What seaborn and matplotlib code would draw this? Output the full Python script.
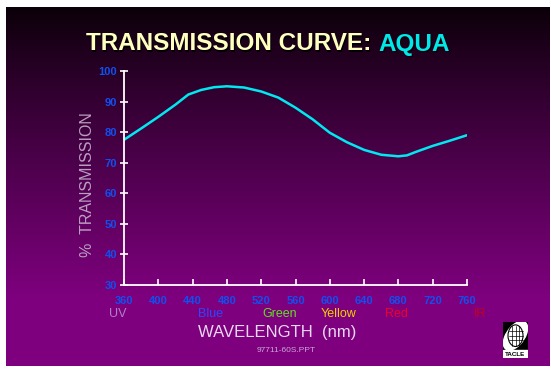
import matplotlib.pyplot as plt
import matplotlib.patches as mpatches
import numpy as np
import pandas as pd
import seaborn as sns

# values
wavelength = [360, 380, 400, 420, 435, 450, 465, 480, 500, 520, 540, 560,
              580, 600, 620, 640, 660, 680, 690, 700, 720, 740, 760]
transmission = [77.5, 81.2, 85.0, 89.0, 92.3, 93.8, 94.7, 95.0, 94.6, 93.3,
                91.3, 88.0, 84.2, 79.8, 76.7, 74.2, 72.6, 72.1, 72.4, 73.5,
                75.5, 77.2, 79.0]
x_ticks = [360, 400, 440, 480, 520, 560, 600, 640, 680, 720, 760]
y_ticks = [30, 40, 50, 60, 70, 80, 90, 100]
band_names = ["UV", "Blue", "Green", "Yellow", "Red", "IR"]
band_pos = [353, 461, 542, 610, 678, 775]
band_colors = ["#b080c8", "#2848ff", "#60e020", "#f0d000", "#f00028", "#c00020"]

df = pd.DataFrame({"wavelength": wavelength, "transmission": transmission})

sns.set_style("white")
plt.rcParams['font.family'] = ['Liberation Sans', 'DejaVu Sans']

W, H = 551, 371
fig = plt.figure(figsize=(W / 100, H / 100), dpi=100)
fig.patch.set_facecolor("white")

# slide background with vertical gradient
bg = fig.add_axes([6 / W, 1 - 366 / H, 544 / W, 359 / H])
bg.set_axis_off()
t = np.linspace(0, 1, 256)
ramp = np.clip(t / 0.82, 0, 1) ** 0.9
top = np.array([0.04, 0.0, 0.03])
bot = np.array([0.50, 0.0, 0.50])
grad = top[None, :] + (bot - top)[None, :] * ramp[:, None]
bg.imshow(grad[:, None, :], aspect="auto", extent=[0, 1, 1, 0])
bg.set_xlim(0, 1)
bg.set_ylim(1, 0)

ax = fig.add_axes([124 / W, 1 - 285 / H, 343 / W, 214 / H])
ax.patch.set_alpha(0)
sns.lineplot(data=df, x="wavelength", y="transmission", ax=ax,
             color="#00e8f0", linewidth=1.8)
ax.set_xlim(360, 760)
ax.set_ylim(30, 100)
ax.set_xticks(x_ticks)
ax.set_yticks(y_ticks)
for s in ["top", "right"]:
    ax.spines[s].set_visible(False)
for s in ["left", "bottom"]:
    ax.spines[s].set_color("white")
    ax.spines[s].set_linewidth(1.3)
ax.tick_params(axis="y", left=True, direction="inout", length=6, width=1.2,
               color="white", labelcolor="#1050f0", labelsize=8, pad=2)
ax.tick_params(axis="x", bottom=True, direction="in", length=4, width=1.2,
               color="white", labelcolor="#1050f0", labelsize=8, pad=8)
for lab in ax.get_xticklabels() + ax.get_yticklabels():
    lab.set_fontweight("bold")
ax.set_xlabel("")
ax.set_ylabel("%  TRANSMISSION", color="#b8a0c0", fontsize=11.5)
ax.yaxis.set_label_coords(-0.085, 0.47)

for name, pos, col in zip(band_names, band_pos, band_colors):
    ax.text(pos, -0.135, name, transform=ax.get_xaxis_transform(),
            ha="center", va="center", color=col, fontsize=9)

fig.text(277 / W, 1 - 333 / H, "WAVELENGTH  (nm)", ha="center", va="center",
         color="#e8d8f0", fontsize=12)
fig.text(286 / W, 1 - 350 / H, "97711-60S.PPT", ha="center", va="center",
         color="#c8a8d8", fontsize=6)

# title with shadow
title_l = "TRANSMISSION CURVE: "
title_r = "AQUA"
ty = 1 - 44 / H
for dx, dy, c1, c2 in [(1.5, -1.5, "#000000", "#000000"),
                       (0, 0, "#ffffc0", "#00e8e8")]:
    fig.text(378 / W + dx / W, ty + dy / H, title_l, ha="right", va="center",
             color=c1, fontsize=17.5, fontweight="bold")
    fig.text(378 / W + dx / W, ty + dy / H, title_r, ha="left", va="center",
             color=c2, fontsize=17.5, fontweight="bold")

# small logo, bottom right
logo = fig.add_axes([503 / W, 1 - 358 / H, 25 / W, 36 / H])
logo.set_xlim(0, 1)
logo.set_ylim(0, 1)
logo.set_axis_off()
logo.add_patch(mpatches.Rectangle((0, 0.25), 1, 0.75, color="black"))
logo.add_patch(mpatches.Ellipse((0.5, 0.62), 1.1, 0.6, angle=35, color="white"))
logo.add_patch(mpatches.Circle((0.5, 0.62), 0.3, fill=False, color="black", lw=0.8))
for yy in [0.5, 0.62, 0.74]:
    logo.plot([0.22, 0.78], [yy, yy], color="black", lw=0.5)
for xx in [0.35, 0.5, 0.65]:
    logo.plot([xx, xx], [0.34, 0.9], color="black", lw=0.5)
logo.add_patch(mpatches.Rectangle((0, 0.0), 1, 0.22, color="white"))
logo.text(0.5, 0.1, "TACLE", ha="center", va="center", fontsize=4.5,
          color="black", fontweight="bold")

fig.savefig("out.png", dpi=100, facecolor=fig.get_facecolor())
